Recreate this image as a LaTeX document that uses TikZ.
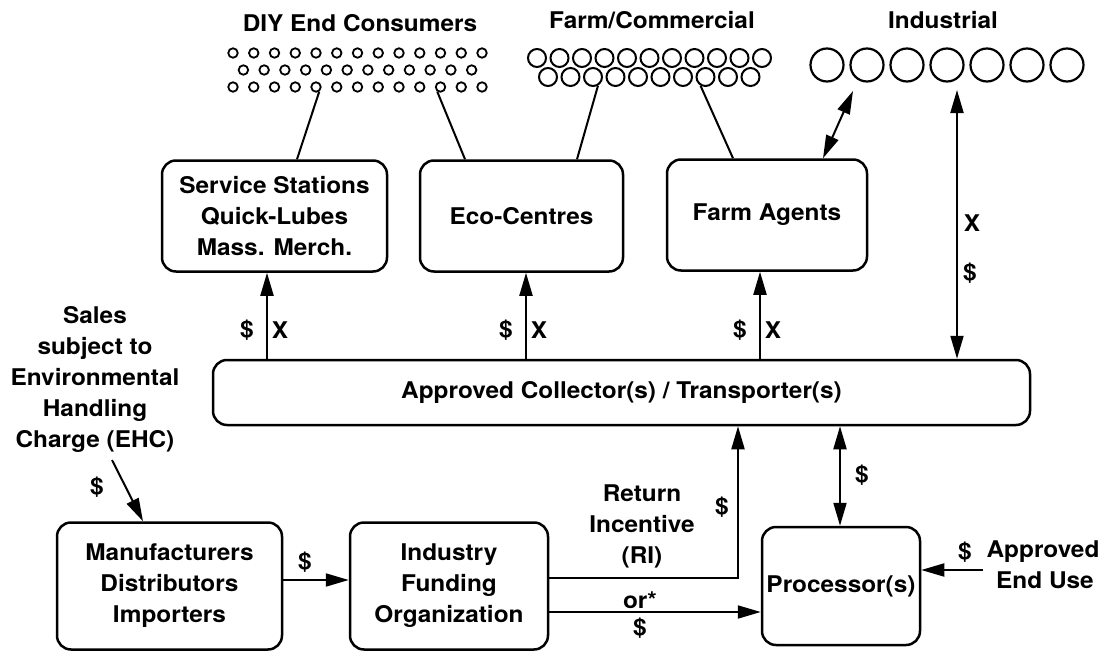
\documentclass[tikz,border=0pt]{standalone}
\usepackage{fontspec}
\setmainfont{TeX Gyre Heros}[FakeStretch=1.06]
\usetikzlibrary{arrows.meta}
\begin{document}
\begin{tikzpicture}[x=1pt,y=-1pt,
  font=\fontsize{23}{31}\selectfont\bfseries,
  box/.style={draw, line width=2.5pt, rounded corners=14pt, align=center, inner sep=0pt},
  lbl/.style={align=center, inner sep=1pt},
  ln/.style={line width=2pt},
  tip/.style={},
  arr/.style={line width=2pt, -{Triangle[length=23pt,width=13pt]}},
  dbl/.style={line width=2pt, {Triangle[length=23pt,width=13pt]}-{Triangle[length=23pt,width=13pt]}},
  dotS/.style={circle, draw, line width=1.8pt, minimum size=9.5pt, inner sep=0pt},
  dotM/.style={circle, draw, line width=2pt, minimum size=18pt, inner sep=0pt},
  dotL/.style={circle, draw, line width=2.2pt, minimum size=33pt, inner sep=0pt}]
\fill[white] (0,0) rectangle (1104,653);
\useasboundingbox (0,0) rectangle (1104,653);

% customer groups
\node[lbl] (tdiy) at (360,23) {DIY End Consumers};
\node[lbl] (tfarm) at (652,20) {Farm/Commercial};
\node[lbl] (tind) at (943,20) {Industrial};

\foreach \i in {0,...,12} {
  \node[dotS] (da\i) at ({233+20.75*\i},53) {};
  \node[dotS] (dc\i) at ({233+20.75*\i},87) {};
}
\foreach \i in {0,...,11}
  \node[dotS] (db\i) at ({243.4+20.75*\i},70) {};

\foreach \i in {0,...,10}
  \node[dotM] (fa\i) at ({537+22.5*\i},58) {};
\foreach \i in {0,...,9}
  \node[dotM] (fb\i) at ({548+22.5*\i},77) {};

\foreach \i in {0,...,6}
  \node[dotL] (ind\i) at ({827+40*\i},65) {};

% outlets
\node[box, minimum width=225pt, minimum height=111pt] (svc) at (274.5,216)
  {Service Stations\\Quick-Lubes\\Mass. Merch.};
\node[box, minimum width=203pt, minimum height=111pt] (eco) at (521.5,216) {Eco-Centres};
\node[box, minimum width=200pt, minimum height=111pt] (agt) at (767,215) {Farm Agents};

% collection
\node[box, minimum width=817pt, minimum height=65pt] (coll) at (621.5,392.5)
  {Approved Collector(s) / Transporter(s)};

% funding and processing
\node[box, minimum width=225pt, minimum height=127pt] (man) at (169.5,586)
  {Manufacturers\\Distributors\\Importers};
\node[box, minimum width=198pt, minimum height=127pt] (ifo) at (449,586)
  {Industry\\Funding\\Organization};
\node[box, minimum width=158pt, minimum height=118pt] (proc) at (841,586) {Processor(s)};

% links from consumers to outlets
\draw[ln] (dc4.-55) -- (297,0 |- svc.north);
\draw[ln] (dc10.235) -- (465,0 |- eco.north);
\draw[ln] (fb2.-60) -- (577,0 |- eco.north);
\draw[ln] (fb7.240) -- (733,0 |- agt.north);

\coordinate (indA) at (853,91);
\coordinate (indB) at (957,90);
\draw[dbl] (823,0 |- agt.north) -- (indA);
\draw[dbl] (indB) -- (indB |- coll.north);
\node[lbl] (xind) at (972,223) {X};
\node[lbl] (dind) at (970,273) {\$};

% collector to outlets
\draw[arr] (267,0 |- coll.north) -- (267,0 |- svc.south);
\draw[arr] (526,0 |- coll.north) -- (526,0 |- eco.south);
\draw[arr] (760,0 |- coll.north) -- (760,0 |- agt.south);
\node[lbl] (d1) at (247,330) {\$};
\node[lbl] (x1) at (280,330) {X};
\node[lbl] (d2) at (506,330) {\$};
\node[lbl] (x2) at (539,330) {X};
\node[lbl] (d3) at (740,330) {\$};
\node[lbl] (x3) at (773,330) {X};

% sales charge
\node[lbl] (sales) at (95,379) {Sales\\subject to\\Environmental\\Handling\\Charge (EHC)};
\coordinate (ehc) at (112,460);
\draw[arr] (ehc) -- (143,0 |- man.north);
\node[lbl] (dehc) at (97,487) {\$};

% funding flows
\draw[arr] (man.east |- 0,580) -- (ifo.west |- 0,580);
\node[lbl] (dman) at (305,562) {\$};

\draw[arr] (ifo.east |- 0,578) -- (738,578) -- (738,0 |- coll.south);
\node[lbl] (ri) at (642,526) {Return\\Incentive\\(RI)};
\node[lbl] (dri) at (722,507) {\$};

\draw[arr] (ifo.east |- 0,612) -- (proc.west |- 0,612);
\node[lbl] (or) at (640,600) {or*};
\node[lbl] (dor) at (640,628) {\$};

\draw[dbl] (840,0 |- coll.south) -- (840,0 |- proc.north);
\node[lbl] (dpc) at (862,475) {\$};

\coordinate (eu) at (983,570);
\draw[arr] (eu) -- (proc.east |- eu);
\node[lbl] (deu) at (965,552) {\$};
\node[lbl] (appr) at (1043,552) {Approved};
\node[lbl] (enduse) at (1045,580) {End Use};
\end{tikzpicture}
\end{document}
